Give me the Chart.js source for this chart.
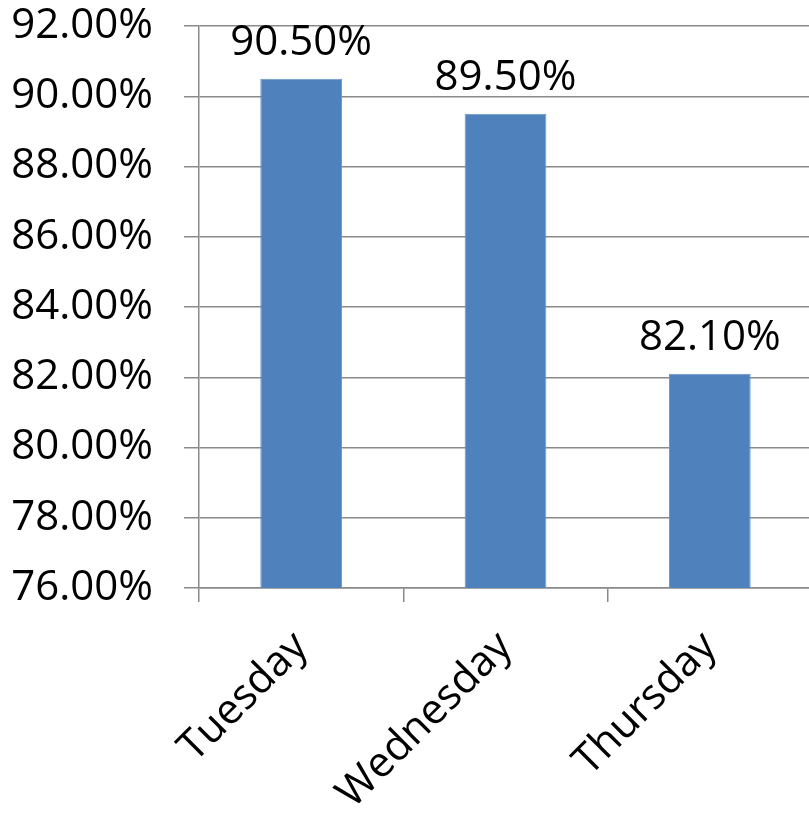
<!DOCTYPE html>
<html>
<head>
<meta charset="utf-8">
<script src="https://cdn.jsdelivr.net/npm/chart.js@4"></script>
<style>
  html, body { margin: 0; padding: 0; background: #fff; overflow: hidden; }
  #wrap { width: 812px; height: 813px; }
</style>
</head>
<body>
<div id="wrap"><canvas id="rateChart"></canvas></div>
<script>
// Daily rates (percent)
let days = ["Tuesday", "Wednesday", "Thursday"];
let rates = [90.5, 89.5, 82.1];
let yMin = 76, yMax = 92, yStep = 2;

const gridGray = "#8a8a8a";
const labelFont = { family: "'Open Sans', 'Liberation Sans', sans-serif", size: 42 };

// Value labels above each bar
const barLabels = {
    id: "barLabels",
    afterDatasetsDraw(chart) {
        const ctx = chart.ctx;
        const meta = chart.getDatasetMeta(0);
        ctx.save();
        ctx.font = labelFont.size + "px " + labelFont.family;
        ctx.fillStyle = "#000";
        ctx.textAlign = "center";
        ctx.textBaseline = "alphabetic";
        meta.data.forEach((bar, i) => {
            ctx.fillText(rates[i].toFixed(2) + "%", bar.x, bar.y - 24);
        });
        ctx.restore();
    }
};

new Chart(document.getElementById("rateChart"), {
    type: "bar",
    data: {
        labels: days,
        datasets: [{
            data: rates,
            backgroundColor: "#4F81BD",
            borderColor: "#6d95c8",
            borderWidth: 1,
            barPercentage: 0.4,
            categoryPercentage: 1
        }]
    },
    options: {
        responsive: true,
        maintainAspectRatio: false,
        animation: false,
        layout: { padding: { top: 26, right: 0, left: 0, bottom: 0 } },
        plugins: { legend: { display: false }, tooltip: { enabled: false } },
        scales: {
            x: {
                grid: {
                    offset: true,
                    drawOnChartArea: false,
                    drawTicks: true,
                    tickLength: 14,
                    color: gridGray,
                    lineWidth: 1.5
                },
                border: { color: gridGray, width: 1.5 },
                ticks: {
                    color: "#000",
                    font: labelFont,
                    minRotation: 45,
                    maxRotation: 45,
                    padding: 20
                },
                afterFit(scale) {
                    scale.height = 225;
                    scale.paddingLeft = 0;
                    scale.paddingRight = 0;
                }
            },
            y: {
                min: yMin,
                max: yMax,
                grid: { color: gridGray, lineWidth: 1.5, tickLength: 15 },
                border: { color: gridGray, width: 1.5 },
                ticks: {
                    stepSize: yStep,
                    color: "#000",
                    font: labelFont,
                    padding: 31,
                    callback: v => v.toFixed(2) + "%"
                },
                afterFit(scale) {
                    scale.width = 199;
                    scale.paddingTop = 0;
                    scale.paddingBottom = 0;
                }
            }
        }
    },
    plugins: [barLabels]
});
</script>
</body>
</html>
